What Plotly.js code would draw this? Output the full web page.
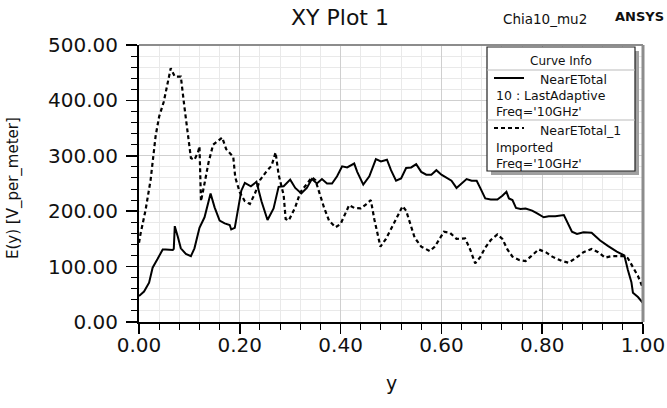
<!DOCTYPE html>
<html><head><meta charset="utf-8">
<script src="https://cdn.plot.ly/plotly-3.0.1.min.js"></script>
<style>html,body{margin:0;padding:0;background:#fff}#plot{width:667px;height:408px}</style>
</head><body><div id="plot"></div>
<script>
// Curve 1: NearETotal, 10 : LastAdaptive
var solidX = [0,0.01,0.02,0.027,0.037,0.047,0.053,0.067,0.069,0.071,0.077,0.083,0.093,0.103,0.11,0.12,0.13,0.142,0.15,0.16,0.17,0.18,0.183,0.19,0.203,0.21,0.222,0.233,0.243,0.255,0.267,0.277,0.287,0.30,0.31,0.322,0.333,0.343,0.353,0.363,0.373,0.383,0.393,0.403,0.413,0.427,0.433,0.445,0.457,0.47,0.48,0.492,0.50,0.51,0.52,0.53,0.54,0.55,0.56,0.57,0.58,0.59,0.60,0.613,0.62,0.63,0.64,0.65,0.66,0.67,0.677,0.687,0.698,0.711,0.721,0.729,0.734,0.741,0.748,0.757,0.767,0.78,0.79,0.803,0.813,0.826,0.843,0.849,0.859,0.869,0.882,0.898,0.915,0.931,0.948,0.963,0.965,0.97,0.977,0.98,0.99,1.0];
var solidY = [47,55,71,98,114,131,131,130,132,173,154,133,123,119,133,170,189,232,207,183,178,175,167,170,237,251,245,253,218,184,205,244,245,257,242,232,242,258,250,258,250,250,263,281,279,286,271,248,263,294,290,293,274,255,259,278,279,285,271,266,266,274,266,258,255,242,250,258,255,255,242,223,221,221,228,235,223,220,206,204,205,201,196,189,191,191,193,182,163,159,162,161,147,137,127,120,112,94,72,53,45,34];
// Curve 2: NearETotal_1, Imported
var dashX = [0,0.003,0.013,0.023,0.033,0.04,0.049,0.057,0.063,0.071,0.083,0.09,0.097,0.103,0.11,0.117,0.12,0.122,0.123,0.13,0.138,0.147,0.157,0.165,0.173,0.183,0.187,0.191,0.20,0.21,0.22,0.23,0.24,0.253,0.263,0.271,0.277,0.287,0.291,0.297,0.31,0.32,0.33,0.343,0.35,0.357,0.367,0.377,0.39,0.40,0.41,0.417,0.427,0.44,0.45,0.46,0.467,0.473,0.479,0.49,0.503,0.517,0.523,0.53,0.537,0.547,0.56,0.577,0.587,0.597,0.605,0.617,0.63,0.647,0.657,0.667,0.677,0.687,0.698,0.711,0.721,0.731,0.741,0.754,0.767,0.777,0.793,0.807,0.82,0.839,0.852,0.866,0.882,0.898,0.911,0.925,0.938,0.961,0.97,0.98,0.99,1.0];
var dashY = [143,159,202,256,336,371,397,432,458,443,443,389,336,296,293,306,317,272,218,250,288,320,328,333,312,301,298,261,234,218,213,232,256,272,282,306,266,229,186,183,207,234,245,261,256,234,207,183,171,177,198,211,206,205,212,220,185,161,136,150,174,198,209,201,179,152,136,128,136,150,163,161,150,151,131,106,117,134,148,158,150,131,118,112,110,118,131,126,118,110,107,115,126,132,126,116,119,119,115,99,83,61];
var xTicks = [0,0.2,0.4,0.6,0.8,1.0];
var yTicks = [0,100,200,300,400,500];

var F = 'DejaVu Sans, Liberation Sans, Arial, sans-serif';
var L = 139, R = 643, T = 45, B = 322;
function px(x){return (x-L)/(R-L);}
function py(y){return (B-y)/(B-T);}

var traces = [
  {x: solidX, y: solidY, mode:'lines', line:{color:'#000', width:2}, showlegend:false, hoverinfo:'skip'},
  {x: dashX, y: dashY, mode:'lines', line:{color:'#000', width:2.2, dash:'4px,3px'}, showlegend:false, hoverinfo:'skip'}
];

function rect(x0,y0,x1,y1,fill,line){return {type:'rect',xref:'paper',yref:'paper',x0:px(x0),x1:px(x1),y0:py(y0),y1:py(y1),fillcolor:fill,line:line||{width:0},layer:'above'};}
function seg(x0,y0,x1,y1,color,w,dash){return {type:'line',xref:'paper',yref:'paper',x0:px(x0),x1:px(x1),y0:py(y0),y1:py(y1),line:{color:color,width:w,dash:dash||'solid'},layer:'above'};}
function txt(x,y,s,size,anchor,extra){var a={xref:'paper',yref:'paper',x:px(x),y:py(y),text:s,showarrow:false,xanchor:anchor||'left',yanchor:'middle',font:{family:F,size:size,color:'#111'}};if(extra){for(var k in extra)a[k]=extra[k];}return a;}

var shapes = [
  seg(L,T,R,T,'#8c8c8c',2),
  seg(R,T,R,B,'#8c8c8c',3),
  rect(491,51,639,175,'#a0a0a0'),
  rect(487,47,635,171,'#ffffff',{color:'#222',width:1.2}),
  seg(487,70,635,70,'#bbbbbb',1),
  seg(487,120,635,120,'#bbbbbb',1),
  seg(494,78,524,78,'#000',2),
  seg(494,128,524,128,'#000',2,'4px,3px')
];

var annotations = [
  txt(340,18,'XY Plot 1',22,'center'),
  txt(545,19,'Chia10_mu2',13.5,'center'),
  txt(639,17,'<b>ANSYS</b>',13,'center'),
  txt(13,188,'E(y) [V_per_meter]',15,'center',{textangle:-90}),
  txt(391,383,'y',19,'center'),
  txt(561,61,'Curve Info',12,'center'),
  txt(538,79,'NearETotal',12.5,'left'),
  txt(494,95,'10 : LastAdaptive',12.5,'left'),
  txt(494,111,"Freq='10GHz'",12.5,'left'),
  txt(538,130,'NearETotal_1',12.5,'left'),
  txt(494,147,'Imported',12.5,'left'),
  txt(494,163,"Freq='10GHz'",12.5,'left')
];

var layout = {
  width:667, height:408,
  margin:{l:L, r:667-R, t:T, b:408-B, pad:0},
  paper_bgcolor:'#fff', plot_bgcolor:'#fff',
  showlegend:false,
  xaxis:{range:[0,1], tickvals:xTicks, tickformat:'.2f', showgrid:true, gridcolor:'#cfcfcf', gridwidth:1,
    showline:true, linecolor:'#000', linewidth:2, ticks:'outside', ticklen:10, tickwidth:1.5, tickcolor:'#000',
    ticklabelstandoff:-6,
    tickfont:{family:F, size:20, color:'#111'}, zeroline:false, fixedrange:true,
    minor:{dtick:0.04, tick0:0, showgrid:true, gridcolor:'#e9e9e9', gridwidth:1, ticks:'outside', ticklen:6, tickcolor:'#000', tickwidth:1}},
  yaxis:{range:[0,500], tickvals:yTicks, tickformat:'.2f', showgrid:true, gridcolor:'#cfcfcf', gridwidth:1,
    showline:true, linecolor:'#000', linewidth:2, ticks:'outside', ticklen:11, tickwidth:1.5, tickcolor:'#000',
    ticklabelstandoff:4,
    tickfont:{family:F, size:20, color:'#111'}, zeroline:false, fixedrange:true,
    minor:{dtick:20, tick0:0, showgrid:true, gridcolor:'#e9e9e9', gridwidth:1, ticks:'outside', ticklen:6, tickcolor:'#000', tickwidth:1}},
  shapes:shapes,
  annotations:annotations
};
Plotly.newPlot('plot', traces, layout, {staticPlot:true, displayModeBar:false});
</script></body></html>
